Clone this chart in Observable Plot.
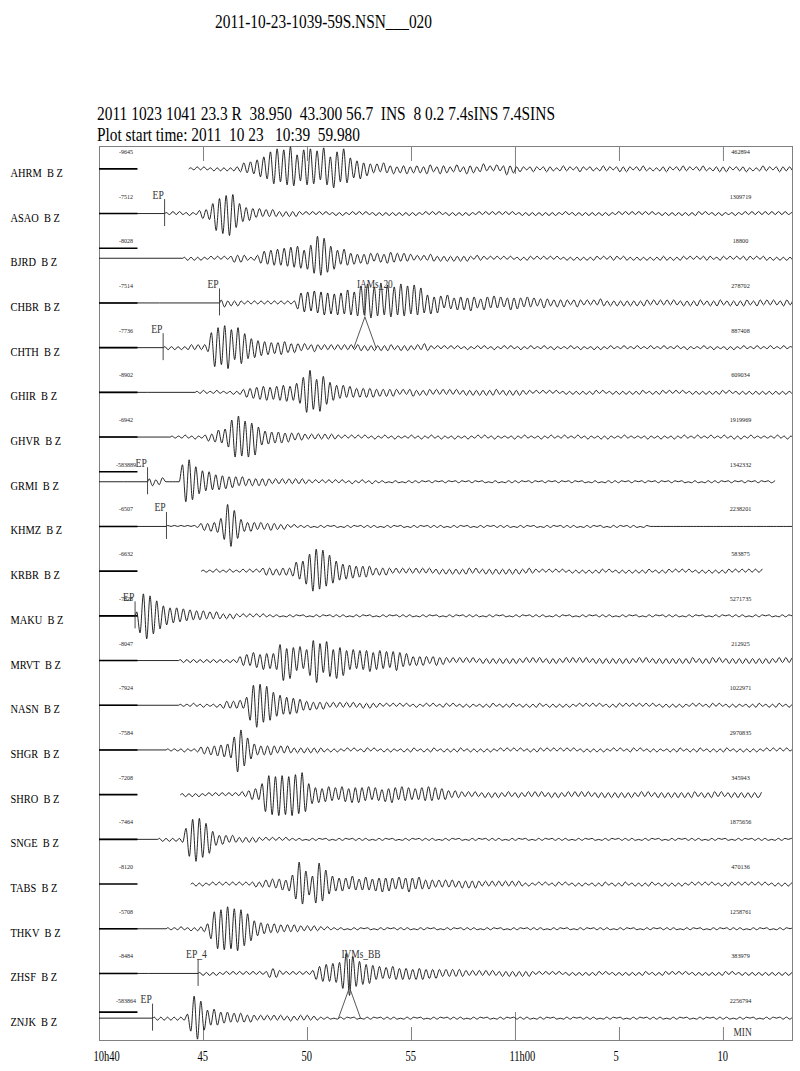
<!DOCTYPE html>
<html><head><meta charset="utf-8">
<script src="https://cdn.jsdelivr.net/npm/d3@7"></script>
<script src="https://cdn.jsdelivr.net/npm/@observablehq/plot@0.6"></script>
<style>
body{margin:0;background:#fff;font-family:"Liberation Serif",serif;}
#hdr{position:relative;width:800px;height:140px;}
.h{position:absolute;white-space:pre;color:#000;line-height:1;transform-origin:0 0;}
#chart svg{display:block;}
</style></head><body>
<div id="hdr">
  <div class="h" id="h0" style="left:215px;top:12px;font-size:19px" data-w="217">2011-10-23-1039-59S.NSN___020</div>
  <div class="h" id="h1" style="left:97px;top:105px;font-size:18px" data-w="458">2011 1023 1041 23.3 R  38.950  43.300 56.7  INS  8 0.2 7.4sINS 7.4SINS</div>
  <div class="h" id="h2" style="left:97px;top:126px;font-size:18px" data-w="263">Plot start time: 2011  10 23   10:39  59.980</div>
</div>
<div id="chart"></div>
<script>
// ---------------- data ----------------
const stations = ["AHRM","ASAO","BJRD","CHBR","CHTH","GHIR","GHVR","GRMI","KHMZ","KRBR",
                  "MAKU","MRVT","NASN","SHGR","SHRO","SNGE","TABS","THKV","ZHSF","ZNJK"];
const component = "B Z";
const leftLabels = ["-9645","-7512","-8028","-7514","-7736","-8902","-6942","-583889","-6507","-6632",
                    "-7828","-8047","-7924","-7584","-7208","-7464","-8120","-5708","-8484","-583864"];
const rightLabels = ["462894","1309719","18800","278702","887408","609034","1919969","1342332","2238201","583875",
                     "5271735","212925","1022971","2970835","345943","1875656","470136","1258761","383979","2256794"];
// minutes after 10h40 where each trace begins
const traceStart = [4.3,3.13,4.0,5.77,3.06,4.6,3.4,2.31,3.2,4.9,1.71,3.8,3.8,3.2,3.9,2.8,4.4,3.2,4.74,2.55];
// successive half-cycle amplitudes (pixels, base 36 digits)
const traceAmps = [
"1121211212 1212236475 98cahfkdjg mhecjgkfib lgcjhdkeb9 8a67545364 3524352434 2543253423 4325342352 3242363423 2123212322 1232212321 2212322123 2321223212 1223212232 2122321223 2321222312 1232212322 2212321223",
"1121211211 3546ahfkim jea8675453 4343232323 2121212121 1212112121 2112121212 1212121121 2121121212 1211212121 2121211212 1212121211 2112121212 1212112121 2121212112 1212121212 2121121211 1211212121 2121212112",
"1212121121 2121243432 1235768797 a8b9ca8bdf mhkecb8697 5645465354 4564535342 3232432323 2323232132 2121212121 1212212121 2121121212 1212212122 2122121212 1212221212 2121212221 1221212122 2121221212 1212121212",
"3423232121 2121212121 2126a9b8ca bcab9cabdc bdhcjfgdkc iegcjdhbic fa8b6a7586 5767586547 6575645756 5464534543 3434323432 3232432323 2323232332 3232323223 2323322323 3223232332 2332323223 3232232323",
"1212121232 3234fjkhml ickgeb9a78 6756576545 4342343232 3232323233 2323232332 2323223243 2121212121 1211212112 1121211211 2111211211 1121121112 1211211121 1121112111 2111211211 1121121112 1211211121 1121112111",
"1121112111 1212354657 6857687968 9bfkmhdjgc a876756545 4545343434 3232342323 3232323232 2323232323 3223232322 2121212121 1212121212 2121121212 1212211212 2121212112 1212121221 2112121212 1212121212",
"1111211211 2435768ahk ljgkeia867 5656454343 3232323232 2121212121 1211211211 1121121121 1211121112 1121211211 1112112111 1211211121 1121121112 1211112111 1112111211 1211211121 1121112112 1211211111 1121121112",
"3423400000 hkmifcb9a8 7867565454 3434343232 3232323221 2121212121 1211211211 1101110111 1110111011 1011101110 1101110111 1110111011 1011101110 1101110111 1110111011 1011101110 1101110111 1110111011 101110111",
"1010101011 3435468dmk gc75454343 3433232121 1111011110 1101111011 1111011110 1101111011 1111011110 1101111011 1111011110 1101111011 1111011110 1101111011 1101100000 0000000000 0000000000 0000000000 0000000000",
"1111211121 1121212134 3424343598 adhkmilfgc a978675656 5434343232 3232323232 2323232323 3232232323 2323232232 2121212121 1212121212 2121121212 1212211212 2121212112 1212121221 212121212",
"4hmnkifda9 8786756454 5343432323 2121212121 1111011110 1101111011 1111011110 1101111011 1111011110 1101111011 1111011110 1101111011 1111011110 1101111011 1111011110 1101111011 1111011110 1101111011 1111011110 1101111011",
"1212121212 1212121245 6587697879 gkcidae8bf kmhcjgbidf a9b8a9ab89 a8979a8675 4545434534 3232323232 2323232323 2322323232 2323223232 3232232323 2323232232 3223232323 2323322323 3232232323 2323232322 3232323232",
"1111211211 1213434353 8fkmlhjfdb a989786545 3434323232 3232232322 2121212121 1211212112 2121121211 1212211212 2112121221 1212121211 2121212112 1221212121 2121121212 1211212112 2121121211 1212211212 2112121221",
"1111121112 3435465768 dmkgc96545 4543434323 2323232212 1211212112 2121121211 1212211212 2112121221 1212121211 2121212112 1221212121 2121121212 1211212112 2121121211 1212211212 2112121221 1212121211 2121212112",
"1212121121 2121212132 4565bhjkil jkilkjmhb9 7867867587 6878768576 5768758675 6576867565 4343323232 2323232232 2322323232 2323223232 3232232323 2323232232 3223232323 2323322323 3232232323 23232",
"12121213bh kmlige8645 4343232323 2121212121 1111011110 1101111011 1111011110 1101111011 1111011110 1101111011 1111011110 1101111011 1111011110 1101111011 1111011110 1101111011 1111011110 1101111011 1111011110 1101111011",
"1212112121 2121212123 2343545647 9fmkdb8jlh ea87676586 5676576867 6575686575 4543434343 3434343232 3232323232 1211212112 2121121211 1212211212 2112121221 1212121211 2121212112 1221212121 2121121212 1211212112",
"1111211212 235ahkjlmk kmjhfc8765 5454434343 3232322121 1111011110 1101111011 1111011110 1101111011 1111011110 1101111011 1111011110 1101111011 1111011110 1101111011 1111011110 1101111011 1111011110 1101111011",
"1212121121 2121212121 2454312121 2121367898 a9bfkmhdcb 9a86756576 5656465645 4543434343 3232323232 2323232323 2121212121 1212121212 2121121212 1212211212 2121212112 1212121221 2112121212 1212121212",
"1212121212 4dmlhc8797 6564545434 3232323232 2322323222 1111011110 1101111011 1111011110 1101111011 1111011110 1101111011 1111011110 1101111011 1111011110 1101111011 1111011110 1101111011 1111011110 1101111011 1111011110"
];
// level of the amplitude scale bar (pixels above the trace zero line)
const scaleBarLevel = [0,0,10,0,0,0,0,10,0,0,0,0,0,0,0,0,0,0,0,6];
// stations drawn without a zero line before the signal
const noLeadIn = ["AHRM","KRBR","SHRO","TABS"];
// phase picks
const phaseStation = ["ASAO","CHBR","CHTH","GRMI","KHMZ","MAKU","ZHSF","ZNJK"];
const phaseTime    = [3.13,5.77,3.06,2.31,3.22,1.71,4.74,2.55];
const phaseLabel   = ["EP","EP","EP","EP","EP","EP","EP_4","EP"];
// amplitude picks
const ampStation = ["CHBR","ZHSF"];
const ampTime    = [12.76,12.02];
const ampLabel   = ["IAMs_20","IVMs_BB"];
// time axis (minutes after 10h40)
const tickMinutes = [0,5,10,15,20,25,30];
const tickLabels  = ["10h40","45","50","55","11h00","5","10"];
const unitLabel = "MIN";

// ---------------- build ----------------
const DT = 0.16;            // minutes per half cycle
const PX = 20 / 894;        // one pixel in row units
const row = s => stations.indexOf(s);
const isHour = i => tickLabels[i].includes("h");

const pts = [];
stations.forEach((s, i) => {
  const a = traceAmps[i].replace(/ /g, "");
  if (!noLeadIn.includes(s)) pts.push({s, t: 0, y: i});
  pts.push({s, t: traceStart[i], y: i});
  for (let k = 0; k < a.length; k++) {
    const v = parseInt(a[k], 36);
    pts.push({s, t: traceStart[i] + (k + 0.5) * DT, y: i + (k % 2 ? 1 : -1) * v * PX});
  }
});
const phases = phaseStation.map((s, i) => ({r: row(s), t: phaseTime[i], label: phaseLabel[i]}));
const amps = ampStation.map((s, i) => ({r: row(s), t: ampTime[i], label: ampLabel[i], id: i}));
const lambda = amps.flatMap(p => [
  {id: p.id, t: p.t - 0.53, y: p.r + 1},
  {id: p.id, t: p.t, y: p.r + 14 * PX},
  {id: p.id, t: p.t + 0.53, y: p.r + 1}
]);
const idx = stations.map((s, i) => i);

const chart = Plot.plot({
  width: 800, height: 931,
  marginLeft: 99, marginRight: 8, marginTop: 6, marginBottom: 31,
  style: {fontFamily: "'Liberation Serif', serif", fontSize: "10px", background: "#fff", overflow: "visible"},
  x: {domain: [0, 33.32], axis: null},
  y: {domain: [-0.5, 19.5], reverse: true, axis: null},
  marks: [
    Plot.frame({stroke: "#808080"}),
    Plot.ruleX(tickMinutes, {x: d => d, y1: -0.5, y2: (d, i) => -0.5 + (isHour(i) ? 28 : 15) * PX, stroke: "#808080"}),
    Plot.ruleX(tickMinutes, {x: d => d, y1: 19.5, y2: (d, i) => 19.5 - (isHour(i) ? 28 : 13) * PX, stroke: "#808080"}),
    Plot.ruleY(idx, {x1: 0, x2: 1.85, y: i => i - scaleBarLevel[i] * PX, stroke: "#000", strokeWidth: 1.6}),
    Plot.line(pts, {x: "t", y: "y", z: "s", stroke: "#000", strokeWidth: 0.85, curve: "monotone-x", clip: true}),
    Plot.ruleX(phases, {x: "t", y1: d => d.r - 14 * PX, y2: d => d.r + 13 * PX, stroke: "#333", strokeWidth: 0.9}),
    Plot.ruleX(amps, {x: "t", y1: d => d.r - 14 * PX, y2: d => d.r + 14 * PX, stroke: "#333", strokeWidth: 0.9}),
    Plot.line(lambda, {x: "t", y: "y", z: "id", stroke: "#444", strokeWidth: 0.9}),
    Plot.text(phases, {x: "t", y: d => d.r - 15 * PX, text: "label", textAnchor: "start", dx: -12,
      lineAnchor: "bottom", fontSize: 12, fill: "#333", ariaDescription: "c:0.8"}),
    Plot.text(amps, {x: "t", y: d => d.r - 15 * PX, text: "label", textAnchor: "start", dx: -8,
      lineAnchor: "bottom", fontSize: 12, fill: "#333", ariaDescription: "c:0.78"}),
    Plot.text(idx, {x: () => 1.27, y: i => i - 15 * PX, text: i => leftLabels[i], textAnchor: "middle",
      lineAnchor: "bottom", fontSize: 6.5, fill: "#222", ariaDescription: "c:0.92"}),
    Plot.text(idx, {x: () => 30.82, y: i => i - 15 * PX, text: i => rightLabels[i], textAnchor: "middle",
      lineAnchor: "bottom", fontSize: 6.5, fill: "#222", ariaDescription: "c:0.95"}),
    Plot.text(idx, {frameAnchor: "left", y: i => i + 8 * PX, text: i => stations[i] + "\u00a0\u00a0" + component,
      textAnchor: "start", dx: -89, lineAnchor: "bottom", fontSize: 13, fill: "#000", ariaDescription: "c:0.8"}),
    Plot.text(tickMinutes, {x: d => d, frameAnchor: "bottom", text: (d, i) => tickLabels[i], textAnchor: "start",
      dx: -6, dy: 20, lineAnchor: "bottom", fontSize: 15, fill: "#000", ariaDescription: "c:0.7"}),
    Plot.text([unitLabel], {frameAnchor: "bottom-right", text: d => d, textAnchor: "start", dx: -59, dy: -5,
      lineAnchor: "bottom", fontSize: 12, fill: "#333", ariaDescription: "c:0.78"})
  ]
});
document.getElementById("chart").appendChild(chart);

// condense the serif lettering like the original narrow font
chart.querySelectorAll("g[aria-description]").forEach(g => {
  const m = /c:([\d.]+)/.exec(g.getAttribute("aria-description"));
  if (!m) return;
  const f = parseFloat(m[1]);
  g.querySelectorAll("text").forEach(t => {
    const L = t.getComputedTextLength();
    t.setAttribute("textLength", (L * f).toFixed(2));
    t.setAttribute("lengthAdjust", "spacingAndGlyphs");
  });
});
document.querySelectorAll(".h").forEach(el => {
  const w = el.getBoundingClientRect().width;
  el.style.transform = `scaleX(${(+el.dataset.w / w).toFixed(4)})`;
});
</script>
</body></html>
